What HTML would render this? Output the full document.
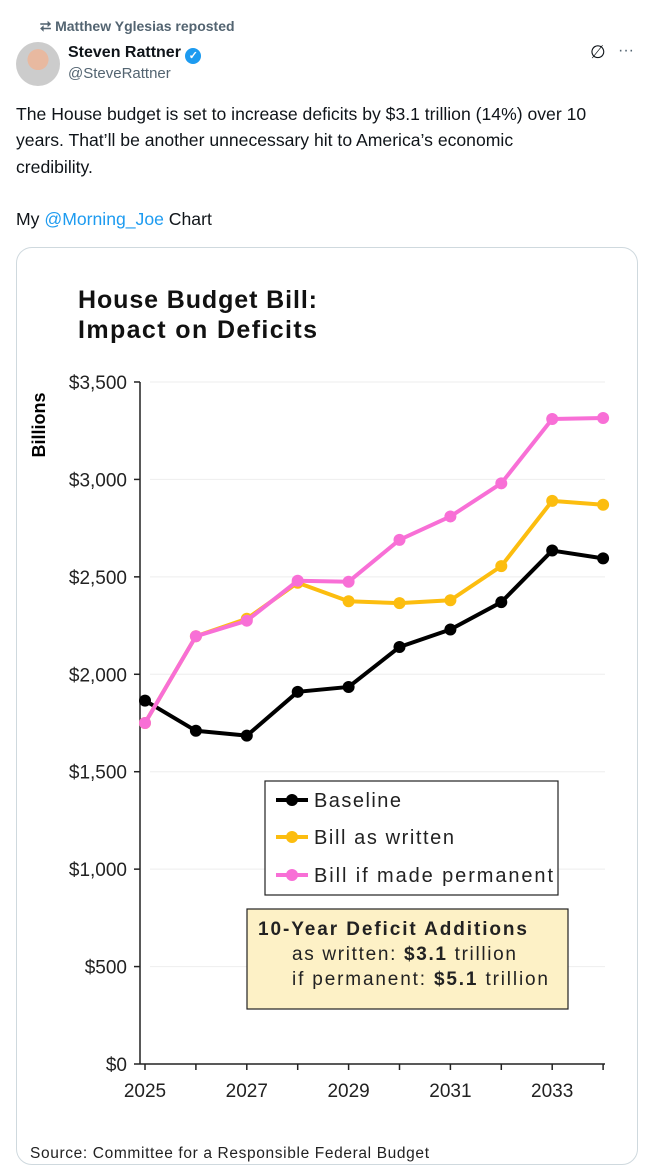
<!DOCTYPE html>
<html><head><meta charset="utf-8"><style>
body{margin:0;width:646px;height:1169px;background:#fff;font-family:"Liberation Sans",sans-serif;position:relative;overflow:hidden;color:#0f1419}
.a{position:absolute;white-space:nowrap}
</style></head><body>
<div class="a" style="left:40px;top:18px;font-size:14px;font-weight:bold;color:#536471">⮂ Matthew Yglesias reposted</div>
<div class="a" style="left:16px;top:42px;width:44px;height:44px;border-radius:50%;background:radial-gradient(circle at 50% 40%,#e8b9a0 0 30%,#ccc 31%)"></div>
<div class="a" style="left:68px;top:44px;font-size:16px;font-weight:bold">Steven Rattner <span style="display:inline-block;width:16px;height:16px;border-radius:50%;background:#1d9bf0;color:#fff;font-size:11px;text-align:center;line-height:16px;vertical-align:-2px">✓</span></div>
<div class="a" style="left:68px;top:65px;font-size:15px;color:#536471">@SteveRattner</div>
<div class="a" style="left:590px;top:42px;font-size:18px">∅</div>
<div class="a" style="left:618px;top:42px;font-size:16px;color:#536471">···</div>
<div class="a" style="left:16px;top:101px;font-size:17.6px;line-height:26.3px">The House budget is set to increase deficits by $3.1 trillion (14%) over 10<br>years. That’ll be another unnecessary hit to America’s economic<br>credibility.<br><br>My <span style="color:#1d9bf0">@Morning_Joe</span> Chart</div>
<div class="a" style="left:16px;top:247px;width:620px;height:916px;border:1px solid #cfd9de;border-radius:16px"></div>
<svg class="a" style="left:0;top:0" width="646" height="1169" id="c"></svg>
<script>
const years=[2025,2026,2027,2028,2029,2030,2031,2032,2033,2034];
const baseline=[1865,1710,1685,1910,1935,2140,2230,2370,2635,2595];
const written=[1750,2195,2285,2470,2375,2365,2380,2555,2890,2870];
const permanent=[1750,2195,2275,2480,2475,2690,2810,2980,3310,3315];
const yTicks=[0,500,1000,1500,2000,2500,3000,3500];
const yTickLabels=["$0","$500","$1,000","$1,500","$2,000","$2,500","$3,000","$3,500"];
const xTicks=[2025,2027,2029,2031,2033];
const NS="http://www.w3.org/2000/svg",svg=document.getElementById('c');
const X=v=>145+(v-2025)*50.9, Y=v=>1064-v*0.19486;
function el(t,a,txt){const e=document.createElementNS(NS,t);for(const k in a)e.setAttribute(k,a[k]);if(txt!=null)e.textContent=txt;svg.appendChild(e);return e;}
const F='"Liberation Sans",sans-serif';
let t=el('text',{x:78,y:308,'font-size':25,'font-weight':'bold','font-family':F,fill:'#111',textLength:239},'House Budget Bill:');

t=el('text',{x:78,y:338,'font-size':25,'font-weight':'bold','font-family':F,fill:'#111',textLength:239},'Impact on Deficits');

t=el('text',{x:0,y:0,'font-size':18,'font-weight':'bold','font-family':F,transform:'translate(45,425) rotate(-90)','text-anchor':'middle'},'Billions');

yTicks.forEach((v,i)=>{
 const g=el('line',{x1:150,x2:605,y1:Y(v),y2:Y(v),stroke:'#eee','stroke-width':1});
 
 const tk=el('line',{x1:134,x2:140,y1:Y(v),y2:Y(v),stroke:'#222','stroke-width':1.5});
 
 const l=el('text',{x:127,y:Y(v)+7,'font-size':19,'text-anchor':'end','font-family':F,fill:'#222'},yTickLabels[i]);
 
});
years.forEach(v=>{const tk=el('line',{x1:X(v),x2:X(v),y1:1064,y2:1070,stroke:'#222','stroke-width':1.5});
 });
xTicks.forEach(v=>{const l=el('text',{x:X(v),y:1097,'font-size':19,'text-anchor':'middle','font-family':F,fill:'#222'},v);
 });
let ax=el('line',{x1:140,x2:140,y1:382,y2:1064,stroke:'#222','stroke-width':1.5});

ax=el('line',{x1:140,x2:605,y1:1064,y2:1064,stroke:'#222','stroke-width':1.5});

function series(d,c,n){
 const p=el('polyline',{points:d.map((v,i)=>X(years[i])+','+Y(v)).join(' '),fill:'none',stroke:c,'stroke-width':4,'stroke-linejoin':'round'});
 
 d.forEach((v,i)=>{const m=el('circle',{cx:X(years[i]),cy:Y(v),r:6,fill:c});
  });
}
series(baseline,'#000','baseline');series(written,'#fcbd0f','written');series(permanent,'#f86fd6','permanent');
let b=el('rect',{x:265,y:781,width:293,height:114,fill:'#fff',stroke:'#222','stroke-width':1.2});

[['Baseline','#000',800,87],['Bill as written','#fcbd0f',837,140],['Bill if made permanent','#f86fd6',875,239]].forEach(([s,c,y,w])=>{
 const ln=el('line',{x1:276,x2:308,y1:y,y2:y,stroke:c,'stroke-width':4});
 const ci=el('circle',{cx:292,cy:y,r:6,fill:c});
 const tx=el('text',{x:314,y:y+7,'font-size':20,'font-family':F,fill:'#222',textLength:w},s);
});
b=el('rect',{x:247,y:909,width:321,height:100,fill:'#fdf1c6',stroke:'#222','stroke-width':1.2});

t=el('text',{x:258,y:935,'font-size':19,'font-weight':'bold','font-family':F,fill:'#222',textLength:269},'10-Year Deficit Additions');

t=el('text',{x:292,y:960,'font-size':19,'font-family':F,fill:'#222',textLength:224});t.innerHTML='as written: <tspan font-weight="bold">$3.1</tspan> trillion';

t=el('text',{x:292,y:985,'font-size':19,'font-family':F,fill:'#222',textLength:256});t.innerHTML='if permanent: <tspan font-weight="bold">$5.1</tspan> trillion';

t=el('text',{x:30,y:1158,'font-size':15.5,'font-family':F,fill:'#222',textLength:399},'Source: Committee for a Responsible Federal Budget');

</script>
</body></html>
